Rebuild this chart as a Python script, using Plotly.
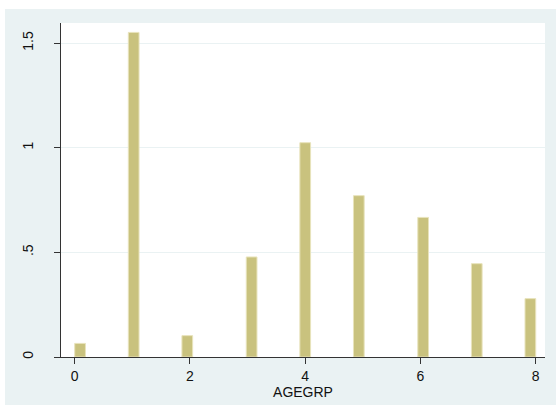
import math
import plotly.graph_objects as go

# Data: histogram density by AGEGRP
agegrp = [0, 1, 2, 3, 4, 5, 6, 7, 8]
density = [0.065, 1.551, 0.102, 0.478, 1.024, 0.771, 0.667, 0.446, 0.279]
x_ticks = [0, 2, 4, 6, 8]
y_ticks = [0, 0.5, 1, 1.5]
y_tick_labels = ["0", ".5", "1", "1.5"]

# Histogram binning (Stata-style: 43 bins between min and max)
n_bins = 43
lo, hi = min(agegrp), max(agegrp)
bw = (hi - lo) / n_bins
centers = []
for v in agegrp:
    idx = min(int(math.floor((v - lo) / bw + 1e-9)), n_bins - 1)
    centers.append(lo + (idx + 0.5) * bw)

BG = "#EAF2F3"
FONT = "Liberation Sans, Arial, sans-serif"

fig = go.Figure(
    go.Bar(
        x=centers,
        y=density,
        width=[bw] * len(centers),
        marker=dict(color="#C9C27E", line=dict(color="#E8E3BC", width=1)),
        hoverinfo="x+y",
    )
)

fig.update_layout(
    width=556,
    height=410,
    margin=dict(l=61, r=11, t=23, b=53),
    paper_bgcolor="white",
    plot_bgcolor="white",
    showlegend=False,
    font=dict(family=FONT, size=14, color="#111111"),
    shapes=[
        dict(type="rect", xref="paper", yref="paper", x0=-0.1157, x1=1.03,
             y0=-0.1437, y1=1.042, fillcolor=BG, line=dict(width=0), layer="below"),
        dict(type="rect", xref="paper", yref="paper", x0=0, x1=1, y0=0, y1=1,
             fillcolor="white", line=dict(width=0), layer="below"),
    ],
)

fig.update_xaxes(
    automargin=False,
    range=[-0.238, 8.161],
    tickvals=x_ticks,
    ticktext=[str(t) for t in x_ticks],
    ticks="outside",
    ticklen=6,
    tickwidth=1,
    tickcolor="#333333",
    showline=True,
    linecolor="#333333",
    linewidth=1,
    showgrid=False,
    zeroline=False,
    tickfont=dict(size=14, family=FONT, color="#111111"),
    title=dict(text="AGEGRP", font=dict(size=14, family=FONT, color="#111111"), standoff=2),
)

fig.update_yaxes(
    automargin=False,
    range=[0, 1.596],
    tickvals=y_ticks,
    ticktext=y_tick_labels,
    tickangle=-90,
    ticks="outside",
    ticklen=6,
    tickwidth=1,
    tickcolor="#333333",
    showline=True,
    linecolor="#333333",
    linewidth=1,
    showgrid=True,
    gridcolor=BG,
    gridwidth=1,
    zeroline=False,
    ticklabelstandoff=15,
    tickfont=dict(size=14, family=FONT, color="#111111"),
)

fig.write_html(
    "out.html",
    config={"displayModeBar": False},
    post_script="document.body.style.margin='0';",
)
